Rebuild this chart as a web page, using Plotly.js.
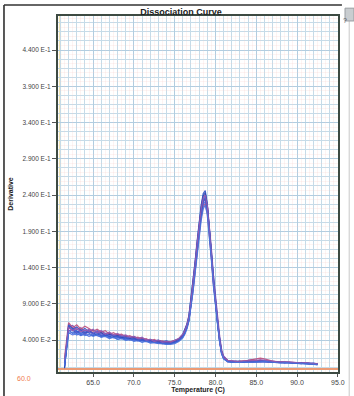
<!DOCTYPE html>
<html>
<head>
<meta charset="utf-8">
<script src="https://cdn.plot.ly/plotly-3.0.1.min.js"></script>
<style>
  html, body { margin: 0; padding: 0; background: #ffffff; }
  #chart { width: 354px; height: 396px; }
</style>
</head>
<body>
<div id="chart"></div>
<script>
// Melt (dissociation) curves: derivative of fluorescence vs temperature, one line per well.
const temperature = [
  61.5, 62, 62.5, 63, 63.5, 64, 64.5, 65, 65.5, 66, 66.5, 67, 67.5, 68, 68.5, 69, 69.5, 70, 70.5, 71,
  71.5, 72, 72.5, 73, 73.5, 74, 74.5, 75, 75.5,
  76, 76.25, 76.5, 76.75, 77, 77.25, 77.5, 77.75, 78, 78.25, 78.5, 78.75, 79, 79.25, 79.5, 79.75,
  80, 80.25, 80.5, 80.75, 81,
  81.5, 82, 82.5, 83, 83.5, 84, 84.5, 85, 85.5, 86, 86.5, 87, 87.5, 88, 88.5, 89, 89.5, 90, 90.5,
  91, 91.5, 92, 92.5
];

const wellA = [
  0.002,0.062,0.055,0.058,0.053,0.056,0.051,0.054,0.050,0.052,0.049,0.050,0.046,0.048,0.045,0.046,0.043,0.045,0.042,0.043,0.040,0.041,0.039,0.040,0.038,0.039,0.037,0.039,0.042,
  0.048,0.054,0.062,0.074,0.097,0.121,0.148,0.176,0.203,0.226,0.242,0.246,0.228,0.198,0.162,0.124,0.096,0.070,0.043,0.025,0.017,
  0.012,0.011,0.010,0.011,0.010,0.010,0.011,0.012,0.011,0.012,0.011,0.010,0.010,0.009,0.010,0.009,0.009,0.008,0.009,0.008,0.008,0.008,0.007
];
const wellB = [
  0.006,0.054,0.049,0.052,0.047,0.050,0.053,0.048,0.051,0.046,0.049,0.044,0.047,0.043,0.045,0.041,0.044,0.040,0.042,0.039,0.041,0.037,0.039,0.036,0.038,0.035,0.037,0.037,0.040,
  0.046,0.051,0.059,0.070,0.092,0.115,0.142,0.170,0.197,0.220,0.236,0.240,0.224,0.192,0.156,0.118,0.090,0.064,0.039,0.022,0.015,
  0.011,0.010,0.010,0.009,0.010,0.011,0.010,0.011,0.012,0.011,0.010,0.010,0.009,0.010,0.009,0.009,0.008,0.009,0.008,0.008,0.007,0.008,0.007
];
const wellC = [
  0.010,0.058,0.060,0.054,0.057,0.052,0.055,0.049,0.053,0.050,0.047,0.049,0.045,0.047,0.044,0.046,0.042,0.043,0.040,0.042,0.038,0.040,0.037,0.038,0.036,0.037,0.036,0.038,0.040,
  0.045,0.050,0.057,0.067,0.086,0.108,0.134,0.162,0.190,0.214,0.230,0.234,0.226,0.200,0.166,0.130,0.100,0.074,0.047,0.027,0.018,
  0.012,0.011,0.011,0.010,0.011,0.012,0.013,0.012,0.011,0.011,0.010,0.011,0.010,0.009,0.009,0.010,0.009,0.008,0.008,0.009,0.008,0.007,0.007
];
const wellD = [
  0.003,0.050,0.047,0.049,0.046,0.048,0.045,0.047,0.046,0.044,0.046,0.043,0.044,0.041,0.043,0.040,0.041,0.039,0.040,0.037,0.039,0.036,0.037,0.035,0.036,0.034,0.035,0.036,0.039,
  0.045,0.050,0.058,0.069,0.090,0.113,0.140,0.168,0.195,0.218,0.233,0.238,0.222,0.190,0.153,0.116,0.088,0.062,0.038,0.021,0.014,
  0.010,0.009,0.009,0.010,0.009,0.009,0.010,0.010,0.011,0.010,0.010,0.009,0.009,0.009,0.008,0.008,0.009,0.008,0.008,0.007,0.007,0.007,0.006
];
const wellE = [
  0.015,0.064,0.057,0.061,0.055,0.059,0.056,0.052,0.055,0.051,0.053,0.048,0.050,0.047,0.048,0.044,0.046,0.043,0.044,0.041,0.042,0.039,0.041,0.038,0.039,0.037,0.038,0.039,0.041,
  0.046,0.051,0.058,0.068,0.088,0.110,0.135,0.161,0.187,0.209,0.224,0.228,0.214,0.186,0.152,0.117,0.090,0.066,0.041,0.024,0.016,
  0.012,0.011,0.010,0.011,0.011,0.012,0.013,0.014,0.015,0.014,0.012,0.011,0.010,0.010,0.009,0.010,0.009,0.009,0.008,0.008,0.008,0.008,0.007
];
const wellF = [
  0.001,0.058,0.053,0.050,0.054,0.049,0.052,0.050,0.047,0.050,0.046,0.048,0.045,0.046,0.043,0.044,0.042,0.043,0.040,0.041,0.039,0.040,0.038,0.039,0.037,0.038,0.036,0.038,0.041,
  0.047,0.053,0.061,0.073,0.095,0.119,0.146,0.174,0.201,0.224,0.239,0.243,0.226,0.195,0.158,0.120,0.092,0.066,0.040,0.023,0.016,
  0.011,0.010,0.011,0.010,0.010,0.011,0.011,0.012,0.012,0.011,0.011,0.010,0.010,0.010,0.009,0.009,0.008,0.008,0.009,0.008,0.008,0.007,0.007
];
const wellG = [
  0.008,0.052,0.055,0.050,0.053,0.048,0.051,0.049,0.052,0.047,0.049,0.046,0.047,0.044,0.046,0.043,0.044,0.041,0.042,0.040,0.040,0.038,0.039,0.036,0.037,0.035,0.036,0.037,0.040,
  0.045,0.050,0.057,0.068,0.087,0.109,0.135,0.162,0.189,0.211,0.227,0.231,0.218,0.189,0.154,0.118,0.091,0.066,0.041,0.023,0.015,
  0.011,0.010,0.009,0.010,0.010,0.010,0.011,0.011,0.010,0.011,0.010,0.010,0.009,0.009,0.009,0.008,0.009,0.008,0.008,0.008,0.007,0.007,0.007
];
const wellH = [
  0.004,0.060,0.056,0.052,0.049,0.053,0.050,0.046,0.049,0.045,0.047,0.045,0.043,0.045,0.042,0.043,0.040,0.042,0.039,0.040,0.038,0.039,0.037,0.037,0.035,0.036,0.035,0.037,0.039,
  0.044,0.049,0.057,0.068,0.089,0.112,0.139,0.166,0.193,0.216,0.231,0.236,0.221,0.191,0.155,0.118,0.090,0.064,0.039,0.022,0.015,
  0.010,0.010,0.009,0.009,0.010,0.010,0.010,0.011,0.010,0.010,0.010,0.009,0.010,0.009,0.008,0.009,0.008,0.008,0.007,0.008,0.007,0.007,0.006
];
const wellI = [
  0.012,0.057,0.053,0.056,0.051,0.054,0.052,0.055,0.050,0.053,0.048,0.051,0.047,0.049,0.046,0.047,0.044,0.045,0.042,0.044,0.040,0.041,0.038,0.040,0.037,0.038,0.037,0.039,0.042,
  0.048,0.053,0.061,0.072,0.094,0.117,0.144,0.172,0.199,0.221,0.236,0.240,0.225,0.195,0.159,0.121,0.093,0.067,0.042,0.024,0.016,
  0.012,0.011,0.011,0.010,0.011,0.011,0.012,0.012,0.013,0.012,0.011,0.011,0.010,0.010,0.010,0.009,0.009,0.009,0.008,0.009,0.008,0.008,0.007
];
const wellJ = [
  0.005,0.049,0.051,0.047,0.050,0.046,0.048,0.045,0.047,0.044,0.045,0.042,0.044,0.041,0.042,0.040,0.041,0.038,0.039,0.037,0.038,0.036,0.036,0.035,0.035,0.034,0.034,0.035,0.038,
  0.043,0.048,0.055,0.066,0.085,0.106,0.131,0.157,0.183,0.205,0.221,0.226,0.213,0.185,0.150,0.114,0.087,0.062,0.038,0.021,0.014,
  0.010,0.009,0.009,0.009,0.010,0.009,0.010,0.010,0.010,0.011,0.010,0.009,0.009,0.008,0.009,0.008,0.008,0.008,0.007,0.007,0.007,0.007,0.006
];

const wells = [wellA, wellB, wellC, wellD, wellE, wellF, wellG, wellH, wellI, wellJ];
const wellColors = ['#2f4fc4', '#3d63d6', '#7a52b8', '#4169e1', '#b8507e',
                    '#2a46b0', '#5a5fd0', '#3558cc', '#9a5aae', '#4a72dc'];

const yTickVals = [0.44, 0.39, 0.34, 0.29, 0.24, 0.19, 0.14, 0.09, 0.04];
const yTickText = ['4.400 E-1', '3.900 E-1', '3.400 E-1', '2.900 E-1', '2.400 E-1',
                   '1.900 E-1', '1.400 E-1', '9.000 E-2', '4.000 E-2'];
const xTickVals = [65, 70, 75, 80, 85, 90, 95];
const xRange = [60.7, 95.02];
const yRange = [-0.0041, 0.4869];

const FONT = 'Liberation Sans, Arial, sans-serif';

const traces = wells.map((w, i) => ({
  type: 'scatter',
  mode: 'lines',
  x: temperature,
  y: w,
  line: { color: wellColors[i], width: 1.2 },
  opacity: 0.9,
  hoverinfo: 'skip'
}));
// empty trace so the overlaid fine grid axes get drawn
traces.push({ type: 'scatter', x: [], y: [], xaxis: 'x2', yaxis: 'y2', hoverinfo: 'skip' });

const layout = {
  width: 354,
  height: 396,
  margin: { l: 58, r: 16, t: 16, b: 24 },
  paper_bgcolor: '#ffffff',
  plot_bgcolor: '#ffffff',
  showlegend: false,
  title: {
    text: 'Dissociation Curve',
    font: { family: FONT, size: 9, color: '#222222', weight: 700 },
    x: 181 / 354, xref: 'container', xanchor: 'center',
    y: 1 - 11.5 / 396, yref: 'container', yanchor: 'middle'
  },
  xaxis: {
    range: xRange,
    tickmode: 'array',
    tickvals: xTickVals,
    ticktext: xTickVals.map(v => v.toFixed(1)),
    ticks: 'outside', ticklen: 3, tickcolor: '#555555',
    tickfont: { family: FONT, size: 7, color: '#444444' },
    showgrid: true, gridcolor: '#b2cde0', gridwidth: 1,
    minor: { tick0: 60, dtick: 1, showgrid: true, gridcolor: '#c6dbe8', gridwidth: 1, ticklen: 0 },
    zeroline: false,
    showline: true, mirror: true, linecolor: '#3d4a42', linewidth: 2,
    title: { text: 'Temperature (C)', font: { family: FONT, size: 7, color: '#222222', weight: 700 }, standoff: 2 }
  },
  yaxis: {
    range: yRange,
    tickmode: 'array',
    tickvals: yTickVals,
    ticktext: yTickText,
    ticks: 'outside', ticklen: 4, tickcolor: '#555555',
    tickfont: { family: FONT, size: 6.5, color: '#444444' },
    showgrid: true, gridcolor: '#b2cde0', gridwidth: 1,
    minor: { tick0: 0.04, dtick: 0.0125, showgrid: true, gridcolor: '#c6dbe8', gridwidth: 1, ticklen: 0 },
    zeroline: true, zerolinecolor: '#ec9a74', zerolinewidth: 1.5,
    showline: true, mirror: true, linecolor: '#3d4a42', linewidth: 2,
    title: { text: 'Derivative', font: { family: FONT, size: 7, color: '#222222', weight: 700 }, standoff: 8 }
  },
  xaxis2: {
    overlaying: 'x', anchor: 'y2', range: xRange, tick0: 60.5, dtick: 1,
    showgrid: true, gridcolor: 'rgba(244,205,200,0.22)', gridwidth: 1,
    showticklabels: false, ticks: '', zeroline: false, showline: false
  },
  yaxis2: {
    overlaying: 'y', anchor: 'x2', range: yRange, tick0: 0.04 + 0.00625, dtick: 0.0125,
    showgrid: true, gridcolor: 'rgba(244,205,200,0.22)', gridwidth: 1,
    showticklabels: false, ticks: '', zeroline: false, showline: false
  },
  shapes: [
    // yellowish strip along the inner left edge of the plot
    { type: 'rect', xref: 'paper', yref: 'paper', x0: 0.004, x1: 0.011, y0: 0, y1: 1,
      fillcolor: 'rgba(236,222,150,0.85)', line: { width: 0 }, layer: 'below' },
    // window frame: left and top edges
    { type: 'line', xref: 'paper', yref: 'paper', x0: -0.1929, x1: -0.1929, y0: -0.08, y1: 1.0309,
      line: { color: '#222222', width: 1.5 } },
    { type: 'line', xref: 'paper', yref: 'paper', x0: -0.1929, x1: 1.014, y0: 1.0309, y1: 1.0309,
      line: { color: '#333333', width: 1.5 } },
    { type: 'line', xref: 'paper', yref: 'paper', x0: 1.04, x1: 1.04, y0: -0.08, y1: 0.99,
      line: { color: '#c8c8c8', width: 1 } },
    // help button
    { type: 'rect', xref: 'paper', yref: 'paper', x0: 1.025, x1: 1.057, y0: 0.986, y1: 1.022,
      fillcolor: '#c9cdd0', line: { color: '#9a9ea2', width: 1 } }
  ],
  annotations: [
    { text: '?', xref: 'paper', yref: 'paper', x: 1.041, y: 1.004, showarrow: false,
      font: { family: FONT, size: 7, color: '#555555' } },
    { text: '60.0', xref: 'paper', yref: 'paper', x: -0.1536, y: -0.0337, showarrow: false,
      font: { family: FONT, size: 7, color: '#f07a4a' } }
  ]
};

Plotly.newPlot('chart', traces, layout, { staticPlot: true, displayModeBar: false });
</script>
</body>
</html>
